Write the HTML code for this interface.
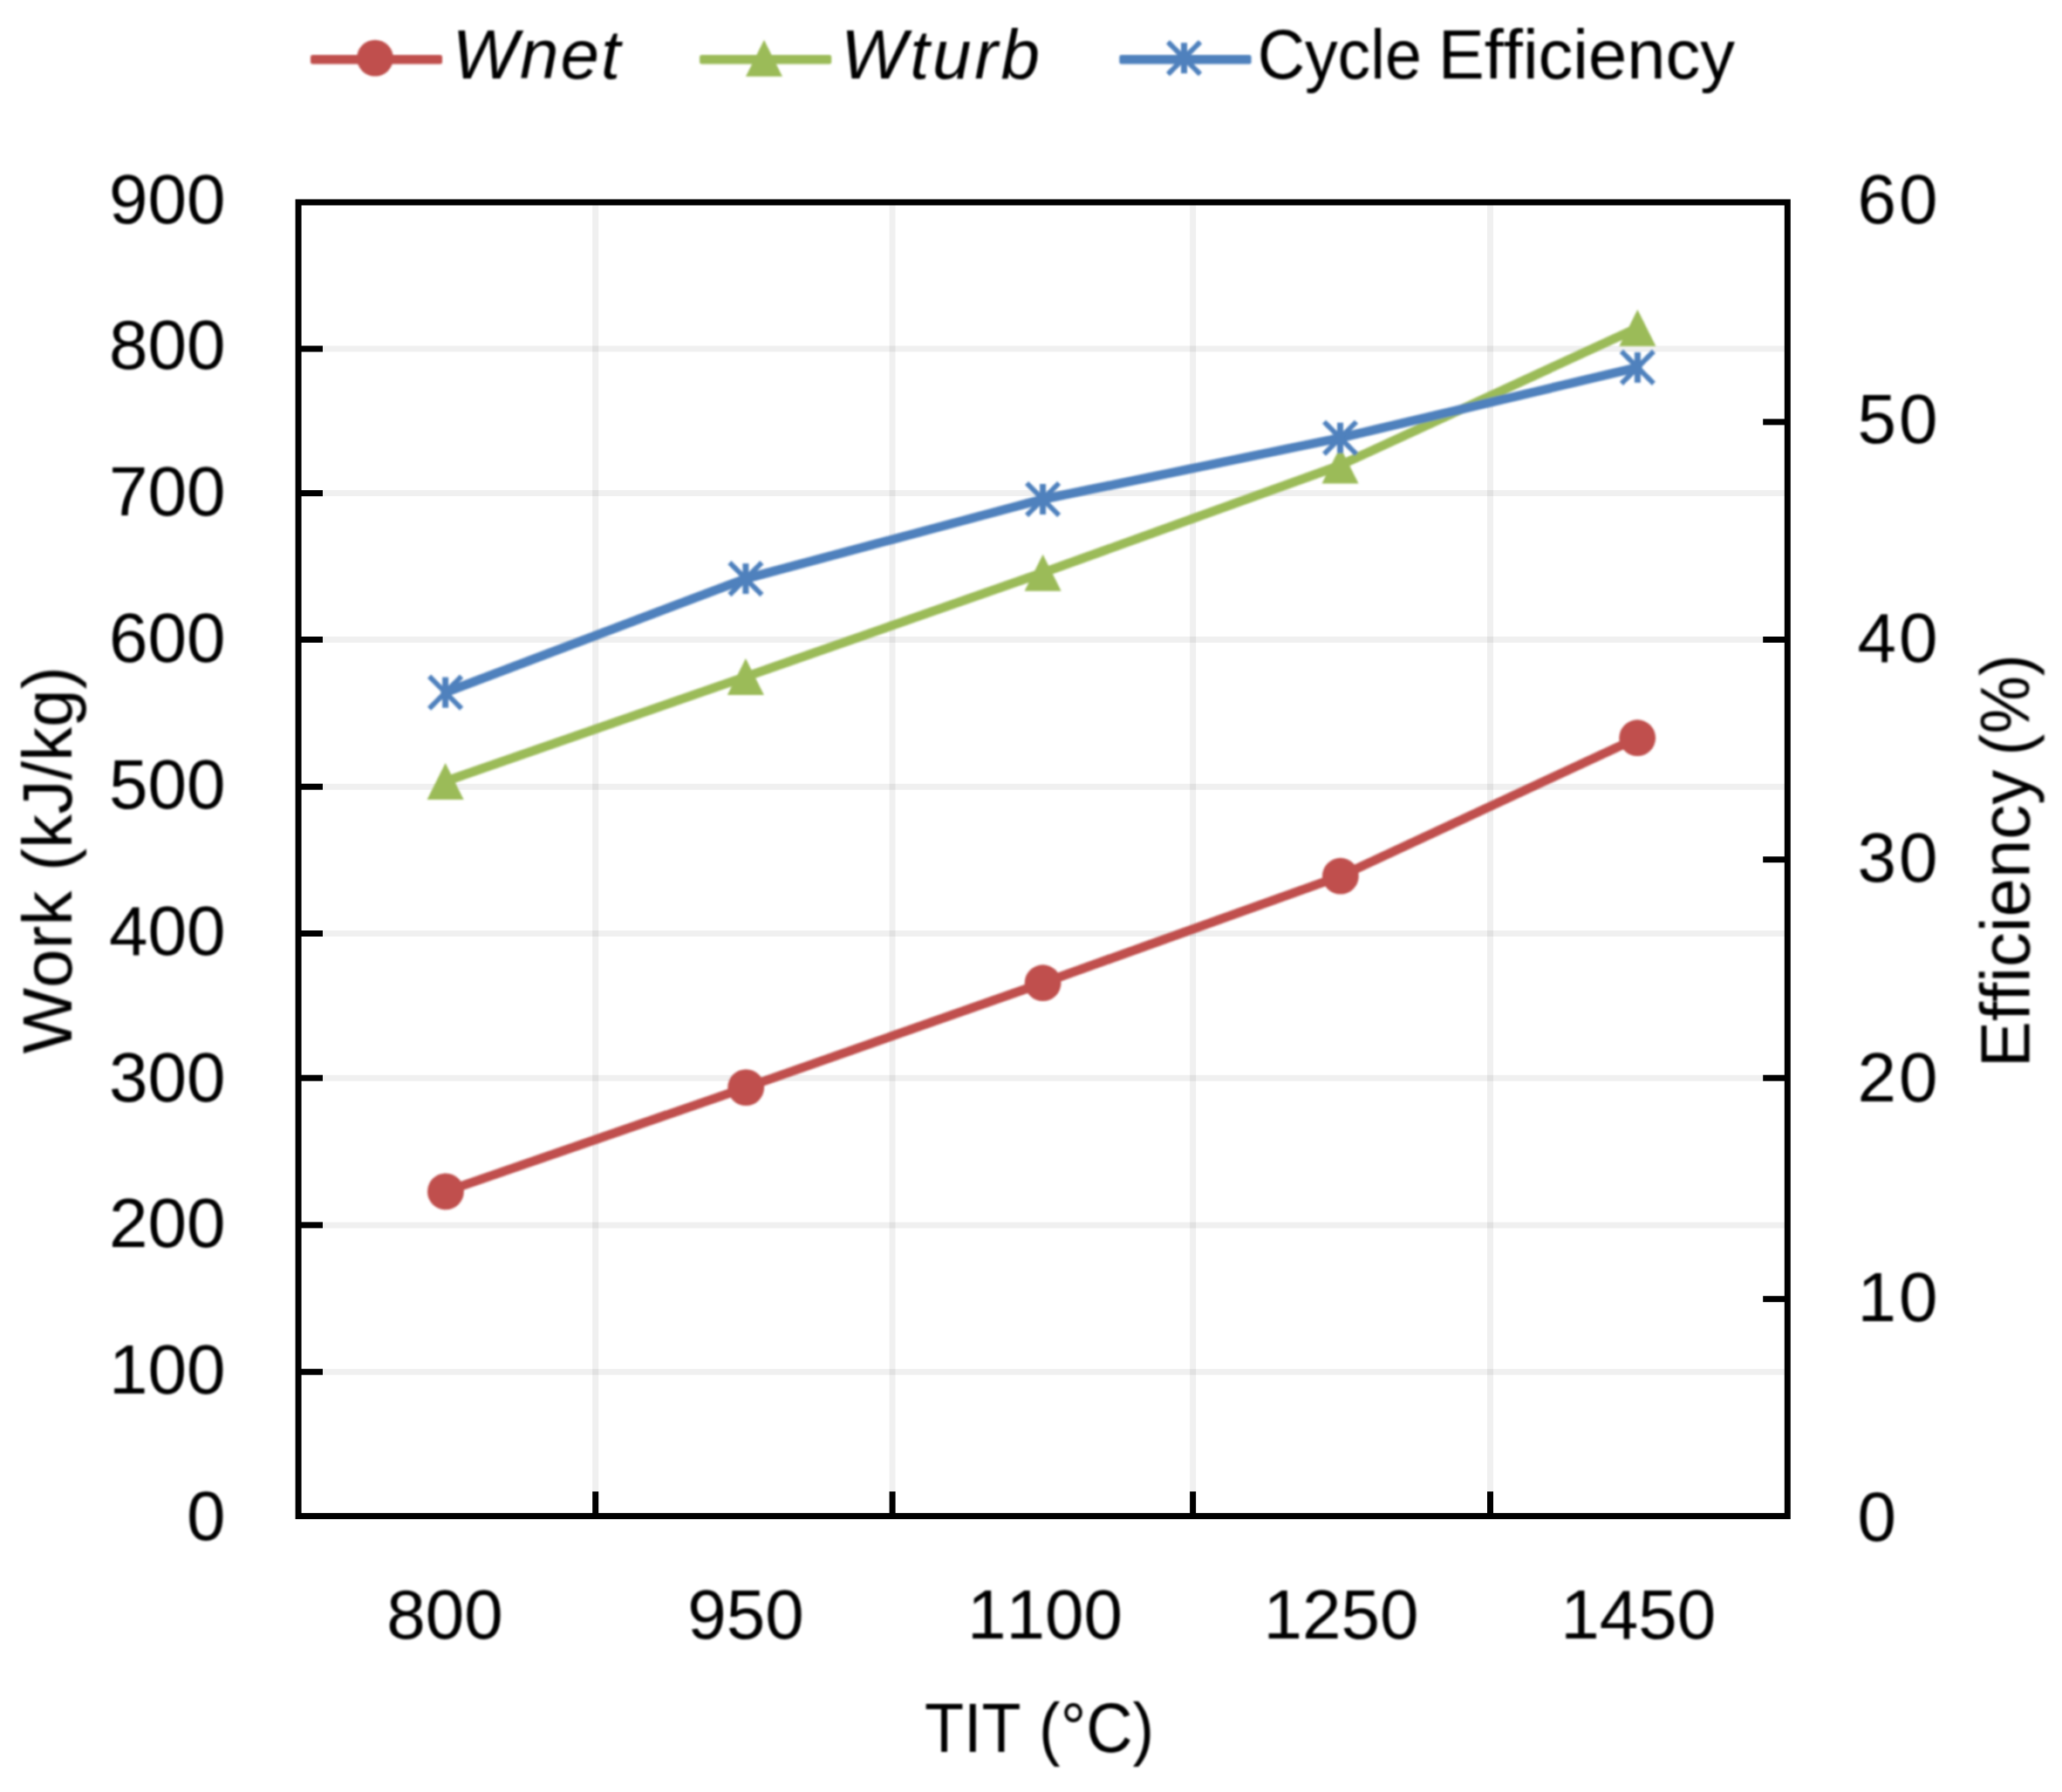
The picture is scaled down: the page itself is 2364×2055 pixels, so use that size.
<!DOCTYPE html>
<html lang="en">
<head>
<meta charset="utf-8">
<title>Work and Cycle Efficiency vs TIT</title>
<style>
html,body{margin:0;padding:0;background:#fff;}
body{width:2364px;height:2055px;overflow:hidden;}
svg{display:block;}
text{font-family:"Liberation Sans",sans-serif;font-size:80px;fill:#000;font-kerning:none;}
.it{font-style:italic;}
</style>
</head>
<body>
<svg width="2364" height="2055" viewBox="0 0 2364 2055">
<defs><filter id="soft" filterUnits="userSpaceOnUse" x="0" y="0" width="2364" height="2055"><feGaussianBlur stdDeviation="0.9"/></filter></defs>
<rect x="0" y="0" width="2364" height="2055" fill="#ffffff"/>
<g stroke="#000" stroke-opacity="0.06" stroke-width="7" fill="none">
<line x1="342.1" y1="400.0" x2="2049.3" y2="400.0"/>
<line x1="342.1" y1="565.6" x2="2049.3" y2="565.6"/>
<line x1="342.1" y1="733.5" x2="2049.3" y2="733.5"/>
<line x1="342.1" y1="902.2" x2="2049.3" y2="902.2"/>
<line x1="342.1" y1="1070.5" x2="2049.3" y2="1070.5"/>
<line x1="342.1" y1="1236.2" x2="2049.3" y2="1236.2"/>
<line x1="342.1" y1="1404.9" x2="2049.3" y2="1404.9"/>
<line x1="342.1" y1="1573.2" x2="2049.3" y2="1573.2"/>
<line x1="682.7" y1="232.0" x2="682.7" y2="1738.6"/>
<line x1="1023.1" y1="232.0" x2="1023.1" y2="1738.6"/>
<line x1="1367.6" y1="232.0" x2="1367.6" y2="1738.6"/>
<line x1="1708.5" y1="232.0" x2="1708.5" y2="1738.6"/>
</g>
<g filter="url(#soft)">
<polyline points="510.9,1366.4 855.2,1247.1 1195.6,1127.2 1536.8,1004.7 1877.2,846.2" fill="none" stroke="#C0504D" stroke-width="10.5" stroke-linejoin="round" stroke-linecap="round"/>
<circle cx="510.9" cy="1366.4" r="20.9" fill="#C0504D"/>
<circle cx="855.2" cy="1247.1" r="20.9" fill="#C0504D"/>
<circle cx="1195.6" cy="1127.2" r="20.9" fill="#C0504D"/>
<circle cx="1536.8" cy="1004.7" r="20.9" fill="#C0504D"/>
<circle cx="1877.2" cy="846.2" r="20.9" fill="#C0504D"/>
<polyline points="510.6,896.0 854.9,776.1 1195.6,656.8 1536.5,533.6 1877.4,376.0" fill="none" stroke="#9BBB59" stroke-width="10.5" stroke-linejoin="round" stroke-linecap="round"/>
<polygon points="510.6,875.0 531.6,917.0 489.6,917.0" fill="#9BBB59"/>
<polygon points="854.9,755.1 875.9,797.1 833.9,797.1" fill="#9BBB59"/>
<polygon points="1195.6,635.8 1216.6,677.8 1174.6,677.8" fill="#9BBB59"/>
<polygon points="1536.5,512.6 1557.5,554.6 1515.5,554.6" fill="#9BBB59"/>
<polygon points="1877.4,355.0 1898.4,397.0 1856.4,397.0" fill="#9BBB59"/>
<polyline points="510.6,794.1 854.9,663.6 1195.6,572.5 1536.5,502.2 1877.4,421.4" fill="none" stroke="#4F81BD" stroke-width="10.5" stroke-linejoin="round" stroke-linecap="round"/>
<path d="M492.1,775.6 L529.1,812.6 M492.1,812.6 L529.1,775.6" stroke="#4F81BD" stroke-width="5.8" fill="none"/><line x1="510.6" y1="776.6" x2="510.6" y2="811.6" stroke="#4F81BD" stroke-width="7"/>
<path d="M836.4,645.1 L873.4,682.1 M836.4,682.1 L873.4,645.1" stroke="#4F81BD" stroke-width="5.8" fill="none"/><line x1="854.9" y1="646.1" x2="854.9" y2="681.1" stroke="#4F81BD" stroke-width="7"/>
<path d="M1177.1,554.0 L1214.1,591.0 M1177.1,591.0 L1214.1,554.0" stroke="#4F81BD" stroke-width="5.8" fill="none"/><line x1="1195.6" y1="555.0" x2="1195.6" y2="590.0" stroke="#4F81BD" stroke-width="7"/>
<path d="M1518.0,483.7 L1555.0,520.7 M1518.0,520.7 L1555.0,483.7" stroke="#4F81BD" stroke-width="5.8" fill="none"/><line x1="1536.5" y1="484.7" x2="1536.5" y2="519.7" stroke="#4F81BD" stroke-width="7"/>
<path d="M1858.9,402.9 L1895.9,439.9 M1858.9,439.9 L1895.9,402.9" stroke="#4F81BD" stroke-width="5.8" fill="none"/><line x1="1877.4" y1="403.9" x2="1877.4" y2="438.9" stroke="#4F81BD" stroke-width="7"/>
</g>
<g stroke="#000" stroke-width="7" fill="none">
<rect x="342.1" y="232.0" width="1707.2" height="1506.6"/>
<line x1="342.1" y1="400.0" x2="370.0" y2="400.0"/>
<line x1="342.1" y1="565.6" x2="370.0" y2="565.6"/>
<line x1="342.1" y1="733.5" x2="370.0" y2="733.5"/>
<line x1="342.1" y1="902.2" x2="370.0" y2="902.2"/>
<line x1="342.1" y1="1070.5" x2="370.0" y2="1070.5"/>
<line x1="342.1" y1="1236.2" x2="370.0" y2="1236.2"/>
<line x1="342.1" y1="1404.9" x2="370.0" y2="1404.9"/>
<line x1="342.1" y1="1573.2" x2="370.0" y2="1573.2"/>
<line x1="2021.2" y1="483.9" x2="2049.3" y2="483.9"/>
<line x1="2021.2" y1="733.5" x2="2049.3" y2="733.5"/>
<line x1="2021.2" y1="985.7" x2="2049.3" y2="985.7"/>
<line x1="2021.2" y1="1236.2" x2="2049.3" y2="1236.2"/>
<line x1="2021.2" y1="1489.7" x2="2049.3" y2="1489.7"/>
<line x1="682.7" y1="1710.4" x2="682.7" y2="1738.6"/>
<line x1="1023.1" y1="1710.4" x2="1023.1" y2="1738.6"/>
<line x1="1367.6" y1="1710.4" x2="1367.6" y2="1738.6"/>
<line x1="1708.5" y1="1710.4" x2="1708.5" y2="1738.6"/>
</g>
<g filter="url(#soft)">
<text x="258.5" y="255.5" text-anchor="end">900</text>
<text x="258.5" y="423.3" text-anchor="end">800</text>
<text x="258.5" y="591.2" text-anchor="end">700</text>
<text x="258.5" y="759.0" text-anchor="end">600</text>
<text x="258.5" y="926.9" text-anchor="end">500</text>
<text x="258.5" y="1094.7" text-anchor="end">400</text>
<text x="258.5" y="1262.5" text-anchor="end">300</text>
<text x="258.5" y="1430.4" text-anchor="end">200</text>
<text x="258.5" y="1598.2" text-anchor="end">100</text>
<text x="258.5" y="1766.1" text-anchor="end">0</text>
<text x="2129.5" y="255.8" textLength="92" lengthAdjust="spacing">60</text>
<text x="2129.5" y="507.6" textLength="92" lengthAdjust="spacing">50</text>
<text x="2129.5" y="759.4" textLength="92" lengthAdjust="spacing">40</text>
<text x="2129.5" y="1011.2" textLength="92" lengthAdjust="spacing">30</text>
<text x="2129.5" y="1263.0" textLength="92" lengthAdjust="spacing">20</text>
<text x="2129.5" y="1514.8" textLength="92" lengthAdjust="spacing">10</text>
<text x="2129.5" y="1766.6">0</text>
<text x="510.0" y="1879.2" text-anchor="middle">800</text>
<text x="854.9" y="1879.2" text-anchor="middle">950</text>
<text x="1198.0" y="1879.2" text-anchor="middle">1100</text>
<text x="1537.4" y="1879.2" text-anchor="middle">1250</text>
<text x="1878.3" y="1879.2" text-anchor="middle">1450</text>
<text x="1191.5" y="2009.0" text-anchor="middle" textLength="263" lengthAdjust="spacingAndGlyphs">TIT (°C)</text>
<text transform="translate(81.9,1207.6) rotate(-90)"><tspan x="-0.7">Work</tspan><tspan x="187.1" textLength="256.2" lengthAdjust="spacingAndGlyphs"> (kJ/kg)</tspan></text>
<text transform="translate(2326.6,1218) rotate(-90)"><tspan x="-6.3" textLength="341.4" lengthAdjust="spacingAndGlyphs">Efficiency</tspan><tspan x="330.8" textLength="136.9" lengthAdjust="spacingAndGlyphs"> (%)</tspan></text>
<rect x="356.0" y="63.0" width="151.0" height="10.5" rx="2.5" fill="#C0504D"/>
<circle cx="430.0" cy="66.6" r="20.9" fill="#C0504D"/>
<rect x="802.1" y="63.0" width="151.1" height="10.5" rx="2.5" fill="#9BBB59"/>
<polygon points="876.0,45.7 897.0,87.7 855.0,87.7" fill="#9BBB59"/>
<rect x="1283.3" y="63.0" width="151.3" height="10.5" rx="2.5" fill="#4F81BD"/>
<path d="M1339.0,48.1 L1376.0,85.1 M1339.0,85.1 L1376.0,48.1" stroke="#4F81BD" stroke-width="5.8" fill="none"/><line x1="1357.5" y1="49.1" x2="1357.5" y2="84.1" stroke="#4F81BD" stroke-width="7"/>
<text class="it" x="518.5" y="90.2" textLength="192.7" lengthAdjust="spacing">Wnet</text>
<text class="it" x="964" y="90.2" textLength="228" lengthAdjust="spacing">Wturb</text>
<text y="90.2"><tspan x="1441.7" textLength="188.1" lengthAdjust="spacingAndGlyphs">Cycle</tspan><tspan x="1626.6" textLength="362.4" lengthAdjust="spacingAndGlyphs"> Efficiency</tspan></text>
</g>
</svg>
</body>
</html>
